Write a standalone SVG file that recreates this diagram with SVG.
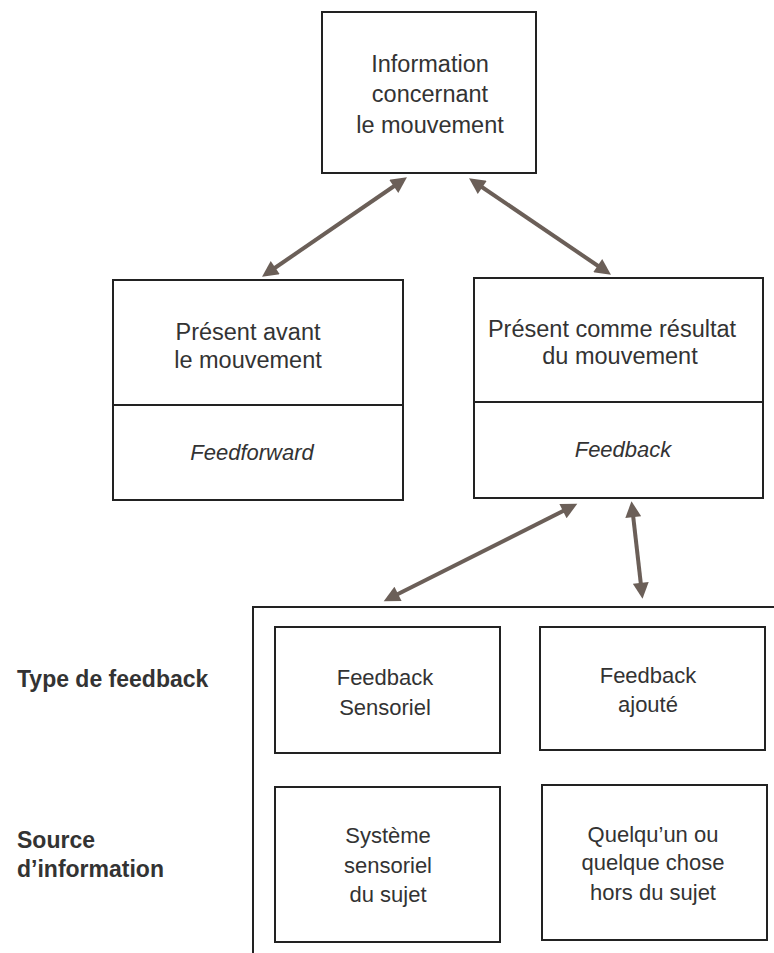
<svg xmlns="http://www.w3.org/2000/svg" width="774" height="953" viewBox="0 0 774 953">
<style>
.box{fill:#fff;stroke:#222;stroke-width:2}
.t{font-family:"Liberation Sans",Arial,sans-serif;font-size:23.5px;fill:#333;text-anchor:middle}
.s{font-family:"Liberation Sans",Arial,sans-serif;font-size:22px;fill:#333;text-anchor:middle}
.i{font-style:italic}
.lab{font-family:"Liberation Sans",Arial,sans-serif;font-size:23px;font-weight:bold;fill:#333}
.arr{stroke:#6b5f58;stroke-width:4;fill:none;marker-start:url(#ah);marker-end:url(#ah)}
</style>
<defs>
<marker id="ah" viewBox="0 0 10 10" refX="7" refY="5" markerWidth="20" markerHeight="16" markerUnits="userSpaceOnUse" orient="auto-start-reverse">
<path d="M0,0 L10,5 L0,10 z" fill="#6b5f58"/>
</marker>
</defs>
<rect width="774" height="953" fill="#fff"/>
<g id="connectors">
<line class="arr" x1="403" y1="180" x2="266" y2="274"/>
<line class="arr" x1="473" y1="181" x2="607" y2="272"/>
<line class="arr" x1="573" y1="506" x2="388" y2="599"/>
<line class="arr" x1="632" y1="506" x2="642" y2="594"/>
</g>
<g id="top">
<rect class="box" x="322" y="12" width="214" height="161"/>
<text class="t" x="430" y="72">Information</text>
<text class="t" x="430" y="102">concernant</text>
<text class="t" x="430" y="133">le mouvement</text>
</g>
<g id="avant">
<rect class="box" x="113" y="280" width="290" height="220"/>
<line x1="113" y1="405" x2="403" y2="405" stroke="#222" stroke-width="2"/>
<text class="t" x="248" y="340">Présent avant</text>
<text class="t" x="248" y="368">le mouvement</text>
<text class="s i" x="252" y="460">Feedforward</text>
</g>
<g id="resultat">
<rect class="box" x="474" y="278" width="289" height="220"/>
<line x1="474" y1="402" x2="763" y2="402" stroke="#222" stroke-width="2"/>
<text class="t" x="612" y="337">Présent comme résultat</text>
<text class="t" x="620" y="364">du mouvement</text>
<text class="s i" x="623" y="457">Feedback</text>
</g>
<g id="groupe">
<path d="M774,607 H253 V953" fill="none" stroke="#222" stroke-width="2"/>
</g>
<g id="labels">
<text class="lab" x="17" y="687">Type de feedback</text>
<text class="lab" x="17" y="848">Source</text>
<text class="lab" x="17" y="877">d’information</text>
</g>
<g id="sensoriel">
<rect class="box" x="275" y="627" width="225" height="126"/>
<text class="s" x="385" y="685">Feedback</text>
<text class="s" x="385" y="715">Sensoriel</text>
</g>
<g id="ajoute">
<rect class="box" x="540" y="627" width="225" height="123"/>
<text class="s" x="648" y="683">Feedback</text>
<text class="s" x="648" y="712">ajouté</text>
</g>
<g id="systeme">
<rect class="box" x="275" y="787" width="225" height="155"/>
<text class="s" x="388" y="843">Système</text>
<text class="s" x="388" y="873">sensoriel</text>
<text class="s" x="388" y="902">du sujet</text>
</g>
<g id="quelquun">
<rect class="box" x="542" y="785" width="225" height="155"/>
<text class="s" x="653" y="842">Quelqu’un ou</text>
<text class="s" x="653" y="870">quelque chose</text>
<text class="s" x="653" y="900">hors du sujet</text>
</g>
</svg>
